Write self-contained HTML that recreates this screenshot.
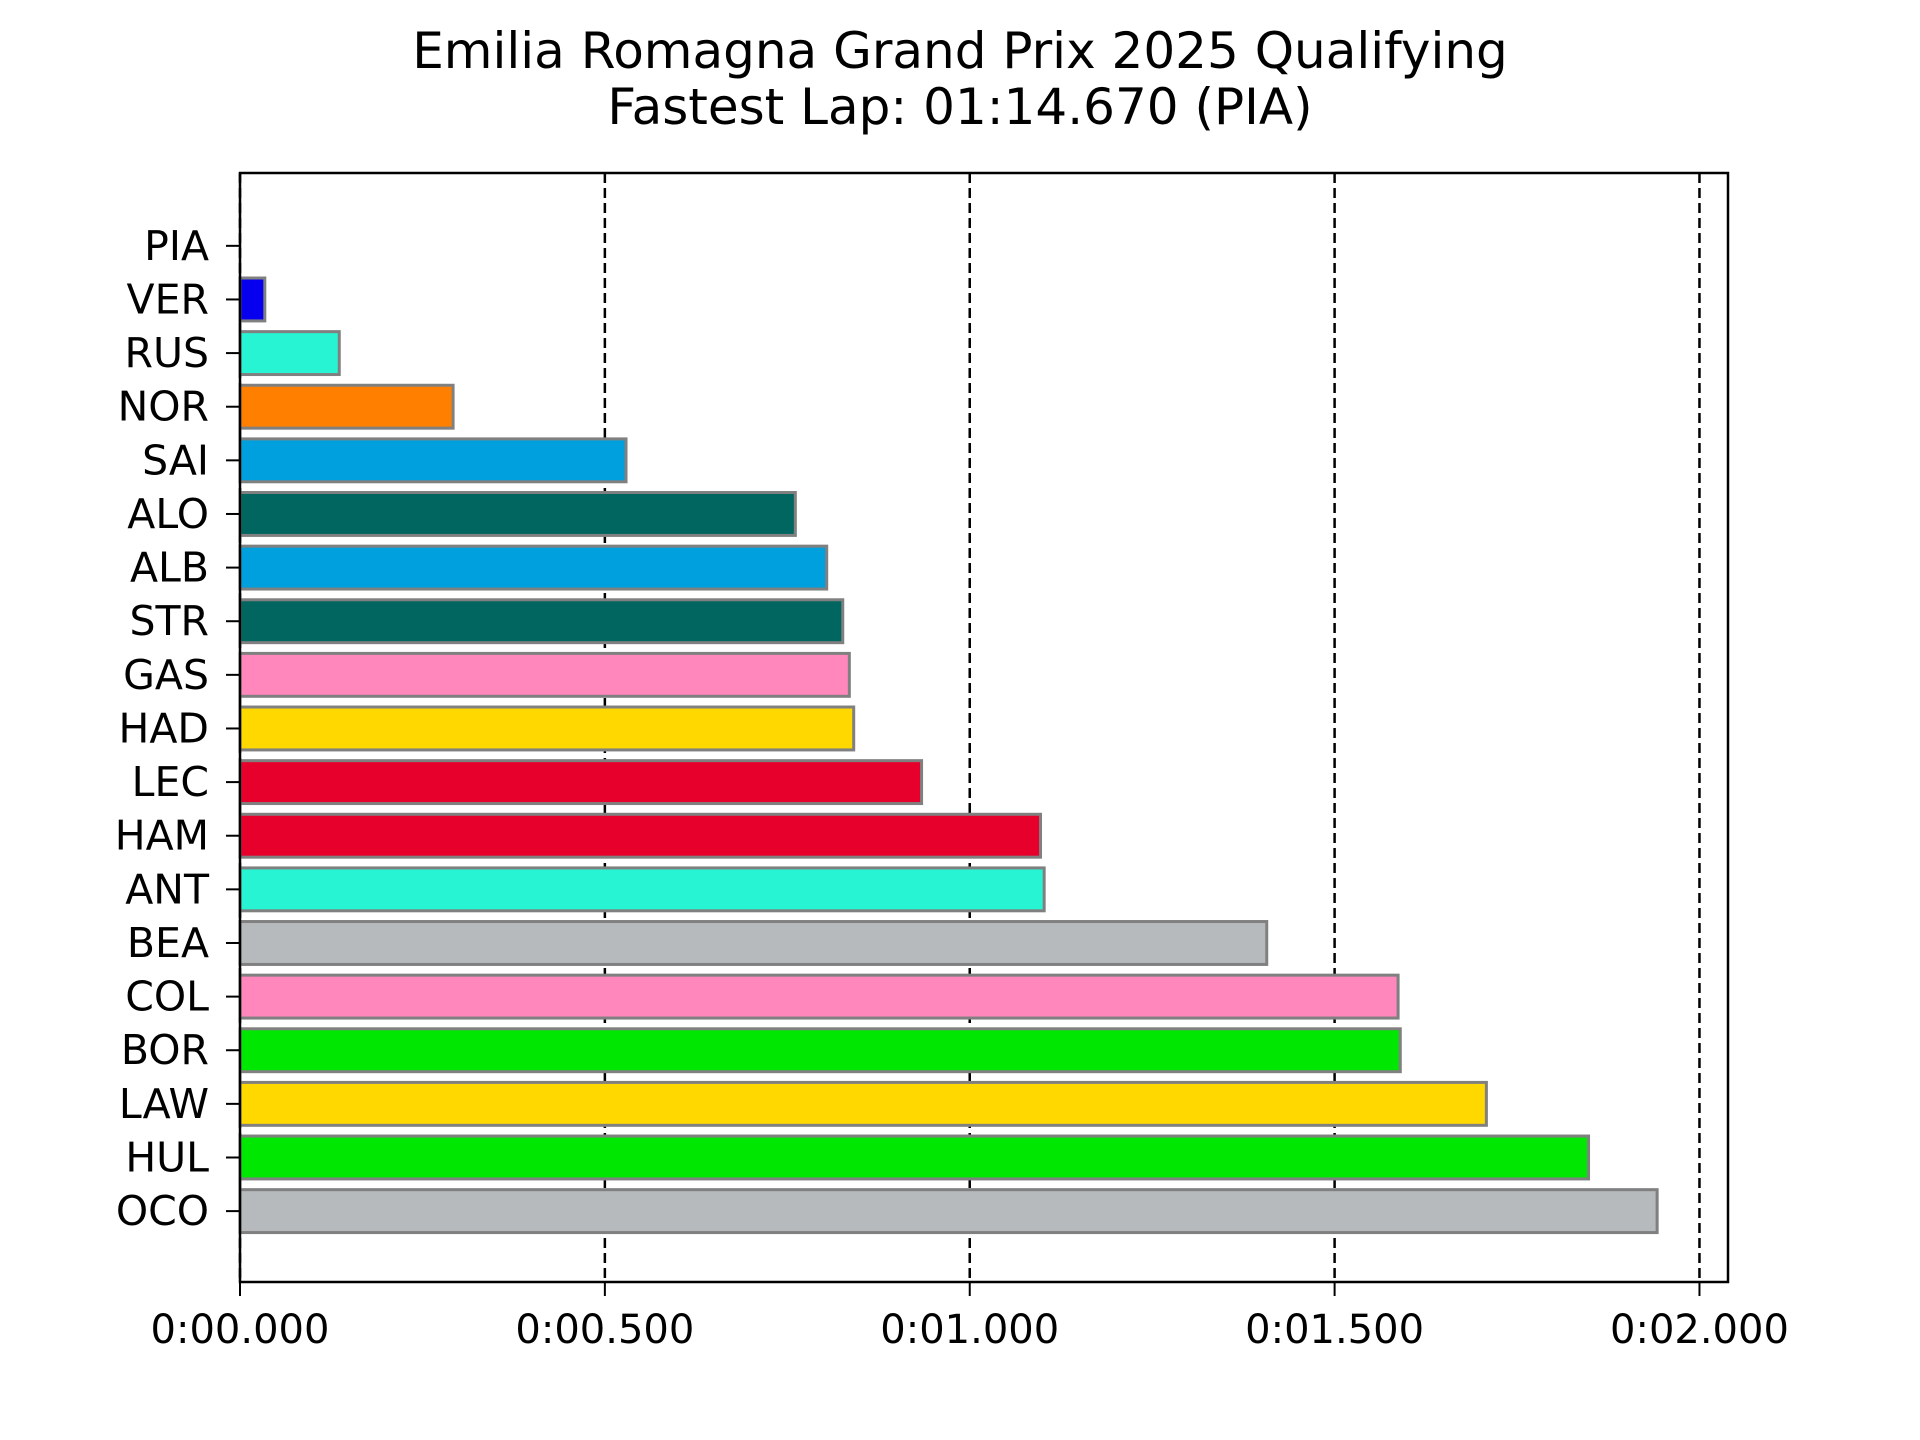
<!DOCTYPE html>
<html><head><meta charset="utf-8"><style>body{margin:0;background:#fff}svg{display:block}text{font-family:"DejaVu Sans","Liberation Sans",sans-serif;fill:#000}</style></head>
<body>
<svg id="chart" width="1920" height="1440" viewBox="0 0 1920 1440" xmlns="http://www.w3.org/2000/svg">
<text x="960" y="68" font-size="50" text-anchor="middle">Emilia Romagna Grand Prix 2025 Qualifying</text>
<text x="960" y="124" font-size="50" text-anchor="middle">Fastest Lap: 01:14.670 (PIA)</text>
<g id="grid"></g><g id="bars"></g><g id="axes"></g>
</svg>
<script>
const drivers=["PIA","VER","RUS","NOR","SAI","ALO","ALB","STR","GAS","HAD","LEC","HAM","ANT","BEA","COL","BOR","LAW","HUL","OCO"];
const gaps=[0,0.034,0.136,0.292,0.529,0.761,0.804,0.826,0.835,0.841,0.934,1.097,1.102,1.407,1.587,1.590,1.708,1.848,1.942];
const colors=["#FF8000","#0600EF","#27F4D2","#FF8000","#00A0DE","#00665F","#00A0DE","#00665F","#FF87BC","#FFD800","#E8002D","#E8002D","#27F4D2","#B6BABD","#FF87BC","#00E701","#FFD800","#00E701","#B6BABD"];
const xTicks=[0,0.5,1.0,1.5,2.0];
const xTickLabels=["0:00.000","0:00.500","0:01.000","0:01.500","0:02.000"];
const NS="http://www.w3.org/2000/svg";
const L=240,R=1728,T=173,B=1282;
const xMax=Math.max(...gaps)*1.05;
const xs=v=>L+v/xMax*(R-L);
const yLo=-0.4-0.047*18.8,ySpan=18.8*1.1;
const ys=i=>T+4+(i-yLo)/ySpan*(B-T);
const unit=(B-T)/ySpan;
function mk(tag,a,p){const e=document.createElementNS(NS,tag);for(const k in a)e.setAttribute(k,a[k]);p.appendChild(e);return e;}
const g=document.getElementById('grid'),b=document.getElementById('bars'),ax=document.getElementById('axes');
xTicks.forEach((t,i)=>{
  const gl=mk('line',{x1:xs(t),x2:xs(t),y1:T,y2:B,stroke:'#000','stroke-width':2.5,'stroke-dasharray':'10 5'},g);
  
  
  const tk=mk('line',{x1:xs(t),x2:xs(t),y1:B,y2:B+14,stroke:'#000','stroke-width':2},ax);
  
  
  const tl=mk('text',{x:xs(t),y:B+61,'font-size':40,'text-anchor':'middle'},ax);
  tl.textContent=xTickLabels[i];
  
  
});
drivers.forEach((d,i)=>{
  const y=ys(i),h=0.8*unit,w=xs(gaps[i])-L;
  if(gaps[i]>0){
    const r=mk('rect',{x:L,y:y-h/2,width:w,height:h,fill:colors[i],stroke:'#808080','stroke-width':3},b);
    
    
  }
  const tk=mk('line',{x1:L-14,x2:L,y1:y,y2:y,stroke:'#000','stroke-width':2},ax);
  
  
  const tl=mk('text',{x:L-31,y:y+14,'font-size':41,'text-anchor':'end'},ax);
  tl.textContent=d;
  
  
});
const fr=mk('rect',{x:L,y:T,width:R-L,height:B-T,fill:'none',stroke:'#000','stroke-width':2.5},ax);


</script>
</body></html>
